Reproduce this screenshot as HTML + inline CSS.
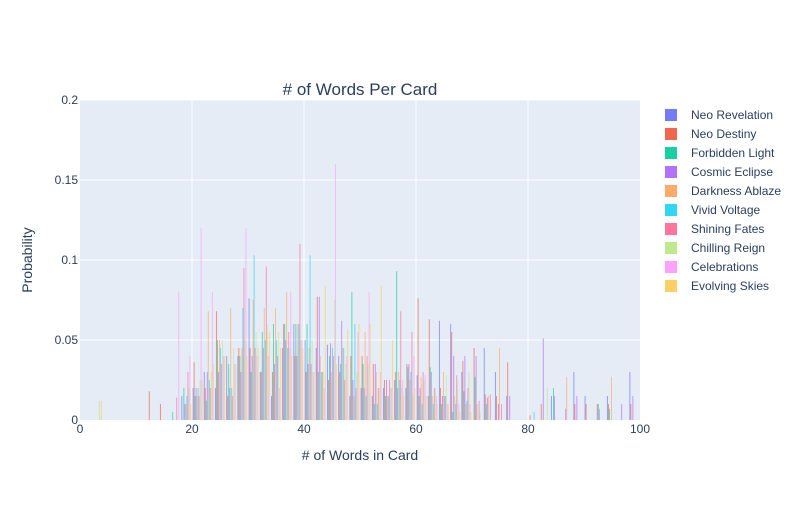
<!DOCTYPE html>
<html><head><meta charset="utf-8"><style>
body{margin:0;background:#fff;font-family:"Liberation Sans",Arial,sans-serif}
svg text{font-family:"Liberation Sans",Arial,sans-serif}
</style></head><body>
<svg id="chart" width="800" height="500" viewBox="0 0 800 500" xmlns="http://www.w3.org/2000/svg">
<rect x="0" y="0" width="800" height="500" fill="#fff"/>
<rect x="80" y="100" width="560" height="320" fill="#e5ecf6"/>
<g id="grid"></g><g id="bars"></g><g id="axes"></g><g id="legend"></g>
<text x="360" y="95" text-anchor="middle" font-size="17" fill="#2a3f5f"># of Words Per Card</text>
<text x="360" y="460" text-anchor="middle" font-size="14" fill="#2a3f5f"># of Words in Card</text>
<text x="32" y="260" text-anchor="middle" font-size="14" fill="#2a3f5f" transform="rotate(-90 32 260)">Probability</text>
</svg>
<script>
const seriesNames=["Neo Revelation","Neo Destiny","Forbidden Light","Cosmic Eclipse","Darkness Ablaze","Vivid Voltage","Shining Fates","Chilling Reign","Celebrations","Evolving Skies"];
const colors=["#636efa","#EF553B","#00cc96","#ab63fa","#FFA15A","#19d3f3","#FF6692","#B6E880","#FF97FF","#FECB52"];
const binStarts=[0,2,4,6,8,10,12,14,16,18,20,22,24,26,28,30,32,34,36,38,40,42,44,46,48,50,52,54,56,58,60,62,64,66,68,70,72,74,76,78,80,82,84,86,88,90,92,94,96,98];
const binWidth=2;
const xTicks=[0,20,40,60,80,100];
const yTicks=[0,0.05,0.1,0.15,0.2];
const yTickLabels=["0","0.05","0.1","0.15","0.2"];
const neoRevelation=[0,0,0,0,0,0,0,0,0,.015,.02,.03,.02,.04,.04,.076,.03,.015,.045,.06,.05,.045,.047,.04,.015,.02,.015,.02,.025,.02,.028,.015,.062,.06,.03,0,.045,.03,.015,0,0,0,.015,0,.03,.015,0,.015,0,.03];
const neoDestiny=[0,0,0,0,0,0,.018,.01,0,0,.036,.02,.068,.015,.045,.045,.03,.03,.06,.04,.03,.077,.025,.03,.04,.04,.035,.025,.03,.035,.076,.063,.02,.055,.037,.045,.016,.015,.036,0,.003,.01,0,0,.01,.01,.01,.01,0,.01];
const forbiddenLight=[0,0,0,0,0,0,0,0,.005,.02,.015,.012,.05,.035,.04,.03,.055,.06,.06,.06,.06,.03,.04,.035,.08,.035,.01,.015,.093,.033,.015,.033,.01,.005,.018,.027,.01,0,0,0,0,0,.02,0,0,0,.01,.007,0,0];
const cosmicEclipse=[0,0,0,0,0,0,0,0,0,.01,.02,.03,.03,.02,.03,.04,.045,.035,.05,.04,.035,.077,.048,.062,.025,.02,.035,.025,.02,.035,.02,.03,.015,.04,.04,.04,.014,.01,.015,0,0,.051,.015,.007,.015,0,.007,0,.01,.015];
const darknessAblaze=[0,0,0,0,0,0,0,0,0,.01,.015,.068,.05,.07,.045,.075,.07,.07,.08,.06,.045,.04,.03,.045,.015,.055,.03,.015,.03,.025,.027,.015,.03,.015,.01,.01,.015,.045,0,0,0,0,0,.027,0,0,0,.027,0,0];
const vividVoltage=[0,0,0,0,0,0,0,0,0,.015,.02,.025,.045,.02,.07,.103,.05,.05,.045,.06,.103,.03,.045,.045,.06,.015,.01,.015,.025,.03,.01,.01,.015,.01,.012,0,0,0,0,0,.005,0,0,0,0,0,0,0,0,0];
const shiningFates=[0,0,0,0,0,0,0,0,.014,.03,.015,.02,.035,.015,.095,.045,.096,.04,.055,.11,.035,.03,.04,.025,.02,.04,.02,.025,.068,.055,.03,.02,.015,.028,.02,.012,.016,.01,0,0,0,0,0,0,0,0,0,0,0,0];
const chillingReign=[0,.012,0,0,0,0,0,0,0,.02,.025,.03,.05,.045,.05,.055,.06,.055,.045,.05,.05,.03,.075,.035,.03,.035,.02,.02,.02,.015,.025,.02,.028,.025,.03,.005,0,0,0,0,0,.02,0,0,0,0,0,0,0,0];
const celebrations=[0,0,0,0,0,0,0,0,.08,.04,.12,.08,.04,.035,.12,.04,.04,.02,.08,.05,.03,.02,.16,.04,.055,.08,.03,.02,.025,.04,.028,.015,.01,.01,.01,0,0,0,0,0,0,0,0,0,0,0,0,0,0,0];
const evolvingSkies=[0,.012,0,0,0,0,0,0,0,.01,.025,.035,.04,.035,.04,.045,.055,.045,.04,.045,.03,.084,.035,.057,.06,.06,.084,.05,.015,.02,.015,.01,.01,.005,.005,0,0,0,0,0,0,0,0,0,0,0,0,0,0,0];
const seriesValues=[neoRevelation,neoDestiny,forbiddenLight,cosmicEclipse,darknessAblaze,vividVoltage,shiningFates,chillingReign,celebrations,evolvingSkies];

const NS="http://www.w3.org/2000/svg";
const X0=80,X1=640,Y0=420,Y1=100;
function xs(v){return X0+(v-0)/(100-0)*(X1-X0);}
function ys(v){return Y0-(v-0)/(0.2-0)*(Y0-Y1);}
function mk(tag,attrs,parent){const e=document.createElementNS(NS,tag);for(const k in attrs)e.setAttribute(k,attrs[k]);parent.appendChild(e);return e;}
const grid=document.getElementById('grid'),bars=document.getElementById('bars'),axes=document.getElementById('axes'),legend=document.getElementById('legend');
yTicks.forEach((t,i)=>{
  if(t>0){const l=mk('line',{x1:X0,x2:X1,y1:ys(t),y2:ys(t),stroke:'#fff','stroke-width':1},grid);
  
  }
  const tx=mk('text',{x:X0-2,y:ys(t)+4,'text-anchor':'end','font-size':12,fill:'#2a3f5f'},axes);
  tx.textContent=yTickLabels[i];
  
  
});
xTicks.forEach(t=>{
  if(t>0&&t<100){const l=mk('line',{x1:xs(t),x2:xs(t),y1:Y1,y2:Y0,stroke:'#fff','stroke-width':1},grid);
  
  }
  const tx=mk('text',{x:xs(t),y:Y0+13,'text-anchor':'middle','font-size':12,fill:'#2a3f5f'},axes);
  tx.textContent=String(t);
  
  
});
const nS=seriesValues.length;
binStarts.forEach((b,bi)=>{
  const left=xs(b),w=xs(b+binWidth)-left;
  const gw=w*0.9,bw=gw/nS,off=left+(w-gw)/2;
  seriesValues.forEach((arr,si)=>{
    const v=arr[bi];if(!v)return;
    const r=mk('rect',{x:off+si*bw,y:ys(v),width:Math.max(bw,0.9),height:ys(0)-ys(v),fill:colors[si],'fill-opacity':0.6},bars);
    
    
  });
});
seriesNames.forEach((n,i)=>{
  const y=115+i*19;
  const g=mk('g',{},legend);
  
  
  mk('rect',{x:665,y:y-6,width:12,height:12,fill:colors[i],'fill-opacity':0.9},g);
  const t=mk('text',{x:691,y:y+4,'font-size':12,fill:'#2a3f5f'},g);
  t.textContent=n;
});
</script>
</body></html>
